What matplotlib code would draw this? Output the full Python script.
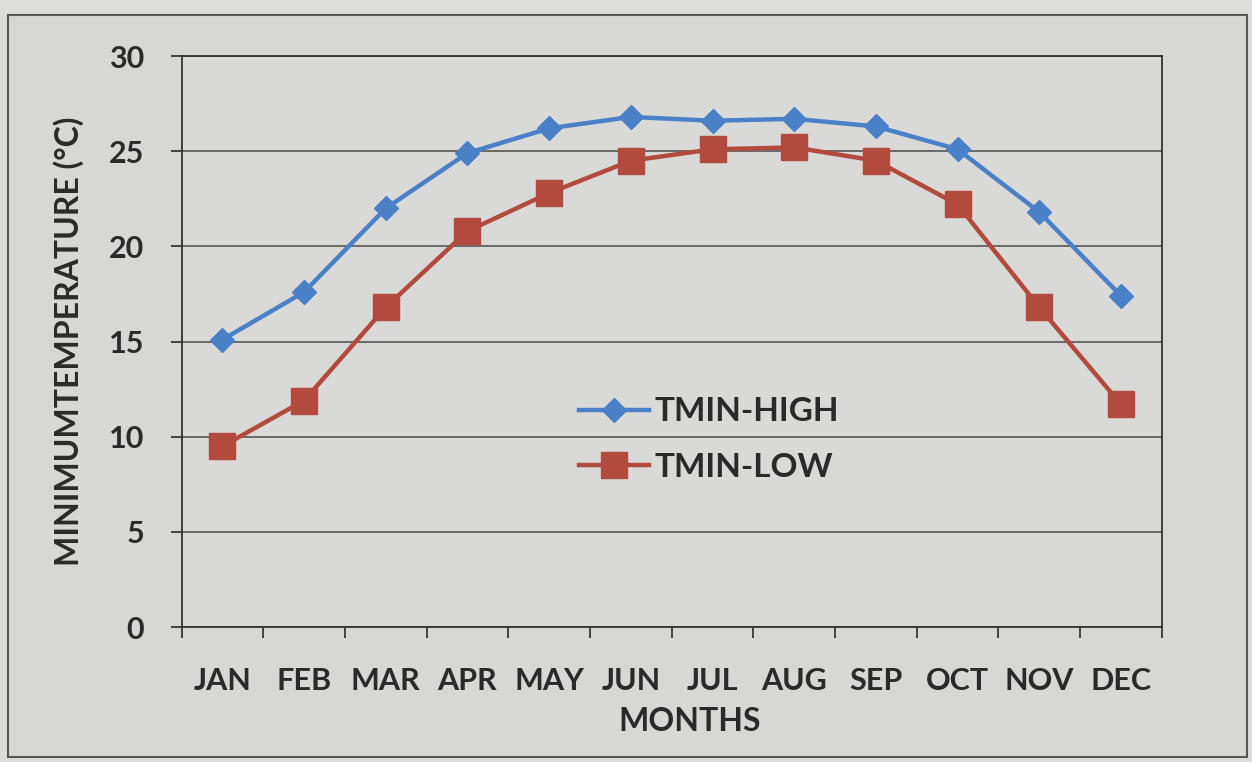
import matplotlib.pyplot as plt
from matplotlib.patches import Rectangle
import numpy as np

months = ["JAN", "FEB", "MAR", "APR", "MAY", "JUN",
          "JUL", "AUG", "SEP", "OCT", "NOV", "DEC"]
tmin_high = [15.1, 17.6, 22.0, 24.9, 26.2, 26.8, 26.6, 26.7, 26.3, 25.1, 21.8, 17.4]
tmin_low = [9.5, 11.9, 16.8, 20.8, 22.8, 24.5, 25.1, 25.2, 24.5, 22.2, 16.8, 11.7]
y_ticks = [0, 5, 10, 15, 20, 25, 30]

plt.rcParams['font.family'] = ['Lato', 'DejaVu Sans']
plt.rcParams['font.weight'] = 'bold'
plt.rcParams['axes.labelweight'] = 'bold'

blue = '#4a80c8'
red = '#b24a3e'
ink = '#2a2a2a'

fig = plt.figure(figsize=(12.52, 7.62), dpi=100, facecolor='#dcdcda')
# chart border, behind the axes
border = Rectangle((0.006, 0.007), 0.990, 0.973, transform=fig.transFigure,
                   facecolor='#d7d7d5', edgecolor='#555555', linewidth=1.5, zorder=-10)
fig.add_artist(border)

ax = fig.add_axes([0.145, 0.177, 0.783, 0.7495])
ax.set_facecolor('#d9d9d7')

x = np.arange(len(months))
ax.plot(x, tmin_high, color=blue, linewidth=3.2, marker='D', markersize=12,
        label='TMIN-HIGH')
ax.plot(x, tmin_low, color=red, linewidth=3.2, marker='s', markersize=19,
        label='TMIN-LOW')

ax.set_xlim(-0.5, len(months) - 0.5)
ax.set_ylim(0, 30)
ax.set_yticks(y_ticks)
ax.grid(axis='y', color='#555555', linewidth=1.2)
ax.set_axisbelow(True)

# boundary ticks without labels, labels at category centres
ax.set_xticks(np.arange(-0.5, len(months), 1.0))
ax.set_xticklabels([])
ax.set_xticks(x, minor=True)
ax.set_xticklabels(months, minor=True)
ax.tick_params(axis='x', which='major', direction='out', length=8, width=1.2, color=ink)
ax.tick_params(axis='x', which='minor', length=0, pad=29, labelsize=22, labelcolor=ink)
ax.tick_params(axis='y', direction='out', length=8, width=1.2, color=ink,
               pad=19, labelsize=22, labelcolor=ink)

for s in ax.spines.values():
    s.set_color('#333333')
    s.set_linewidth(1.3)

ax.set_ylabel('MINIMUMTEMPERATURE (°C)', fontsize=23, color=ink)
ax.yaxis.set_label_coords(-0.1, 0.5)
ax.set_xlabel('MONTHS', fontsize=23, color=ink)
ax.xaxis.set_label_coords(0.518, -0.14)

ax.legend(loc='upper left', bbox_to_anchor=(0.375, 0.455), frameon=False,
          fontsize=24, handlelength=2.1, handletextpad=0.15, labelspacing=0.8,
          labelcolor=ink)

plt.savefig('out.png', dpi=100, facecolor=fig.get_facecolor())
